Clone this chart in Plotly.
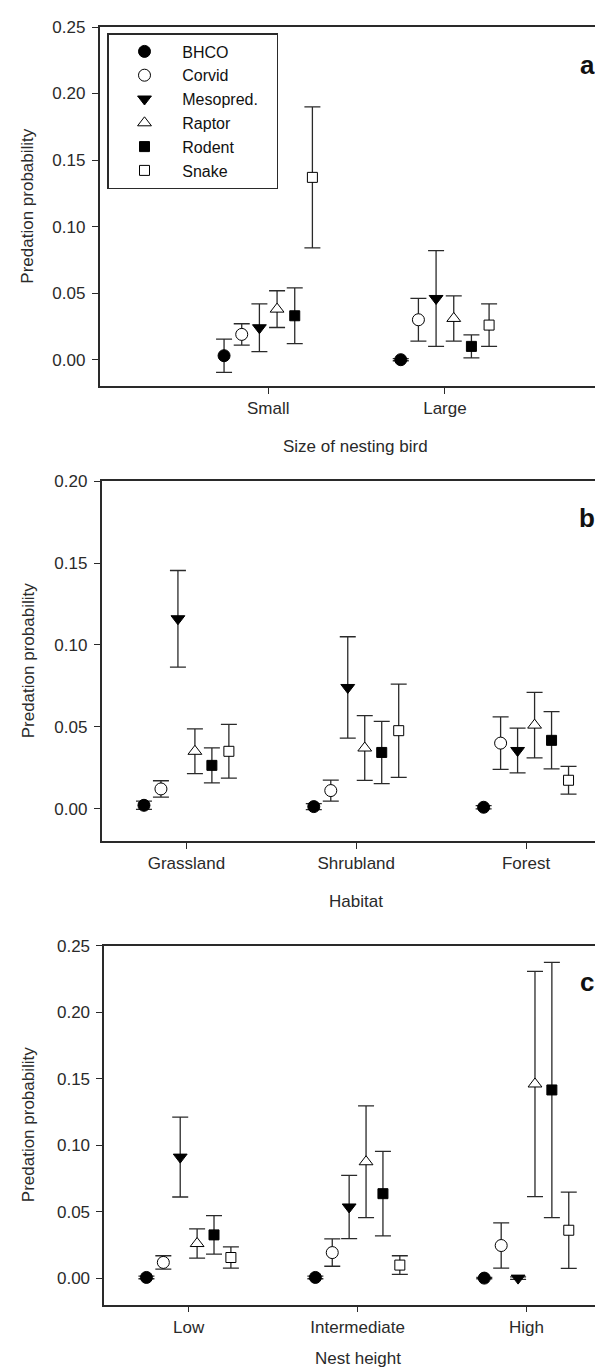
import plotly.graph_objects as go

# ---------------- data ----------------
predators = ["BHCO", "Corvid", "Mesopred.", "Raptor", "Rodent", "Snake"]

size_cats = ["Small", "Large"]
size_mean = {
    "BHCO":      [0.003, 0.000],
    "Corvid":    [0.019, 0.030],
    "Mesopred.": [0.024, 0.046],
    "Raptor":    [0.038, 0.031],
    "Rodent":    [0.033, 0.010],
    "Snake":     [0.137, 0.026],
}
size_err = {
    "BHCO":      [0.0125, 0.0008],
    "Corvid":    [0.008, 0.016],
    "Mesopred.": [0.018, 0.036],
    "Raptor":    [0.0138, 0.017],
    "Rodent":    [0.021, 0.0087],
    "Snake":     [0.053, 0.016],
}

habitat_cats = ["Grassland", "Shrubland", "Forest"]
habitat_mean = {
    "BHCO":      [0.002, 0.0012, 0.0008],
    "Corvid":    [0.012, 0.011, 0.040],
    "Mesopred.": [0.116, 0.074, 0.0355],
    "Raptor":    [0.035, 0.037, 0.051],
    "Rodent":    [0.0264, 0.0343, 0.0417],
    "Snake":     [0.035, 0.0476, 0.0173],
}
habitat_err = {
    "BHCO":      [0.0025, 0.0018, 0.001],
    "Corvid":    [0.005, 0.0064, 0.016],
    "Mesopred.": [0.0295, 0.031, 0.0137],
    "Raptor":    [0.0137, 0.0198, 0.020],
    "Rodent":    [0.0107, 0.019, 0.0175],
    "Snake":     [0.0164, 0.0285, 0.0085],
}

height_cats = ["Low", "Intermediate", "High"]
height_mean = {
    "BHCO":      [0.0005, 0.0005, 0.0],
    "Corvid":    [0.0118, 0.0192, 0.0245],
    "Mesopred.": [0.091, 0.0535, 0.0],
    "Raptor":    [0.026, 0.0875, 0.146],
    "Rodent":    [0.0325, 0.0635, 0.1415],
    "Snake":     [0.0155, 0.0098, 0.036],
}
height_err = {
    "BHCO":      [0.001, 0.001, 0.0005],
    "Corvid":    [0.005, 0.0103, 0.017],
    "Mesopred.": [0.030, 0.0238, 0.001],
    "Raptor":    [0.011, 0.042, 0.0847],
    "Rodent":    [0.0145, 0.0318, 0.096],
    "Snake":     [0.008, 0.007, 0.0287],
}

y_ticks = [0.00, 0.05, 0.10, 0.15, 0.20, 0.25]

# ---------------- styling ----------------
offsets = [-0.25, -0.15, -0.05, 0.05, 0.15, 0.25]
styles = {
    "BHCO":      dict(symbol="circle", color="black", size=12),
    "Corvid":    dict(symbol="circle", color="white", size=12),
    "Mesopred.": dict(symbol="triangle-down", color="black", size=12),
    "Raptor":    dict(symbol="triangle-up", color="white", size=12),
    "Rodent":    dict(symbol="square", color="black", size=10),
    "Snake":     dict(symbol="square", color="white", size=10),
}
INK = "#2a2a2a"
FONT = "Liberation Sans, Arial, sans-serif"
FS = 17
W, H = 603, 1367
NB = "\u00a0"

fig = go.Figure()

panels = [
    dict(cats=size_cats, mean=size_mean, err=size_err, xa="x", ya="y"),
    dict(cats=habitat_cats, mean=habitat_mean, err=habitat_err, xa="x2", ya="y2"),
    dict(cats=height_cats, mean=height_mean, err=height_err, xa="x3", ya="y3"),
]

for pi, p in enumerate(panels):
    for k, pred in enumerate(predators):
        st = styles[pred]
        xs = [i + 1 + offsets[k] for i in range(len(p["cats"]))]
        fig.add_trace(go.Scatter(
            x=xs, y=p["mean"][pred], mode="markers",
            name=NB * 4 + pred + NB * 3, legendgroup=pred, showlegend=(pi == 0),
            xaxis=p["xa"], yaxis=p["ya"],
            marker=dict(symbol=st["symbol"], color=st["color"], size=st["size"],
                        line=dict(color="black", width=1)),
            error_y=dict(type="data", array=p["err"][pred], visible=True,
                         color=INK, thickness=1.3, width=8),
        ))

# panel geometry (pixels)
def ydom(top, bottom):
    return [1 - bottom / H, 1 - top / H]

geo = [
    dict(left=91.5, top=19, bottom=378.3, xr=[0.045, 2.94], yr=[-0.02, 0.25],
         cats=size_cats, title="Size of nesting bird", title_y=438.3, letter="a", letter_y=57),
    dict(left=93.5, top=473.3, bottom=833.3, xr=[0.5, 3.5], yr=[-0.02, 0.20],
         cats=habitat_cats, title="Habitat", title_y=893.3, letter="b", letter_y=510),
    dict(left=96.2, top=937.7, bottom=1296.7, xr=[0.5, 3.5], yr=[-0.02, 0.25],
         cats=height_cats, title="Nest height", title_y=1350, letter="c", letter_y=974.3),
]

layout = dict(
    width=W, height=H, autosize=False,
    margin=dict(l=0, r=0, t=0, b=0),
    paper_bgcolor="white", plot_bgcolor="white",
    font=dict(family=FONT, size=FS, color=INK),
    showlegend=True,
    legend=dict(x=99 / W, y=1 - 25 / H, xanchor="left", yanchor="top",
                bordercolor=INK, borderwidth=1.5, bgcolor="white",
                font=dict(family=FONT, size=16, color="#111"),
                indentation=16, tracegroupgap=0, itemclick=False),
)
annotations = []
for i, g in enumerate(geo):
    sfx = "" if i == 0 else str(i + 1)
    layout["xaxis" + sfx] = dict(
        domain=[g["left"] / W, 1.0], range=g["xr"], anchor="y" + sfx,
        tickmode="array", tickvals=list(range(1, len(g["cats"]) + 1)), ticktext=g["cats"],
        showline=True, mirror=True, linecolor=INK, linewidth=1.5,
        ticks="outside", ticklen=6, tickcolor=INK, tickwidth=1.2,
        showgrid=False, zeroline=False, automargin=False,
        tickfont=dict(size=FS),
    )
    yt = [v for v in y_ticks if v <= g["yr"][1] + 1e-9]
    layout["yaxis" + sfx] = dict(
        domain=ydom(g["top"], g["bottom"]), range=g["yr"], anchor="x" + sfx,
        tickmode="array", tickvals=yt, ticktext=[f"{v:.2f}" for v in yt],
        showline=True, mirror=False, linecolor=INK, linewidth=1.5,
        ticks="outside", ticklen=6, tickcolor=INK, tickwidth=1.2,
        ticklabelstandoff=3,
        showgrid=False, zeroline=False, automargin=False,
        tickfont=dict(size=FS),
    )
    annotations.append(dict(
        text=g["title"], xref="x" + sfx + " domain", x=0.5, yref="paper",
        y=1 - g["title_y"] / H, showarrow=False, xanchor="center", yanchor="middle",
        font=dict(size=FS, color=INK)))
    annotations.append(dict(
        text="Predation probability", xref="paper", x=20 / W, yref="paper",
        y=1 - (g["top"] + g["bottom"]) / 2 / H, textangle=-90, showarrow=False,
        xanchor="center", yanchor="middle", font=dict(size=FS, color=INK)))
    annotations.append(dict(
        text="<b>" + g["letter"] + "</b>", xref="paper", x=579 / W, yref="paper",
        y=1 - g["letter_y"] / H, showarrow=False, xanchor="center", yanchor="middle",
        font=dict(size=26, color="#111")))
layout["annotations"] = annotations

fig.update_layout(**layout)
fig.write_html("out.html")
